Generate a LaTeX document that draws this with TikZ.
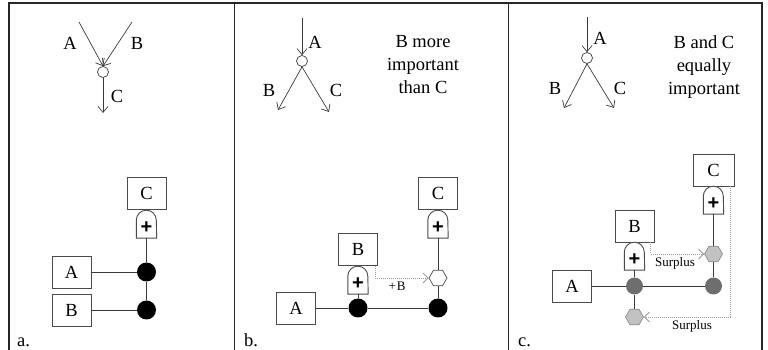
\documentclass[tikz,border=0pt]{standalone}
\usepackage{fontspec}
\setmainfont{Liberation Serif}
\newfontfamily\tnr{Liberation Serif}
\newfontfamily\arl{Liberation Sans}
\usetikzlibrary{shapes.geometric,arrows.meta}
\definecolor{boxc}{HTML}{4A4A4A}
\definecolor{wirec}{HTML}{3A3A3A}
\definecolor{dgray}{HTML}{6E6E6E}
\definecolor{lgray}{HTML}{C2C2C2}
\definecolor{hexc}{HTML}{8A8A8A}
\definecolor{dotc}{HTML}{9A9A9A}
\begin{document}
\begin{tikzpicture}[x=1pt,y=1pt,
  every node/.style={font=\tnr\fontsize{18.5}{23}\selectfont},
  box/.style={draw=boxc,line width=0.9pt,minimum width=39pt,minimum height=32pt,inner sep=0pt,fill=white},
  gatebox/.style={minimum width=20pt,minimum height=28pt,inner sep=0pt},
  gateline/.style={draw=boxc,line width=0.9pt,fill=white},
  plus/.style={font=\arl\bfseries\fontsize{20}{20}\selectfont,inner sep=0pt},
  wire/.style={draw=wirec,line width=0.9pt},
  bdot/.style={circle,fill=black,minimum size=19pt,inner sep=0pt},
  gdot/.style={circle,fill=dgray,minimum size=17pt,inner sep=0pt},
  hexw/.style={regular polygon,regular polygon sides=6,draw=boxc,fill=white,minimum size=18pt,inner sep=0pt,line width=0.7pt},
  hexg/.style={hexw,fill=lgray,draw=hexc},
  surplus/.style={draw=dotc,dash pattern=on 1pt off 1pt,line width=0.8pt,-{Straight Barb[length=5pt,width=10pt]}},
  flow/.style={draw=wirec,line width=0.7pt,-{Straight Barb[length=6pt,width=10pt]}},
  smallo/.style={circle,draw=wirec,fill=white,minimum size=11pt,inner sep=0pt,line width=0.7pt},
  lbl/.style={inner sep=0pt},
  small/.style={font=\tnr\fontsize{13}{15}\selectfont,inner sep=0pt}
]
\useasboundingbox (0,0) rectangle (768,350);
% frame
\draw[line width=1.2pt,draw=black!85] (9,0) -- (9,347) -- (762,347) -- (762,0);
\draw[line width=1pt,draw=black!85] (234.5,0) -- (234.5,347);
\draw[line width=1pt,draw=black!85] (508.5,0) -- (508.5,347);

% ---------------- panel a ----------------
\node[smallo] (ao) at (103,278) {};
\coordinate (aAs) at (79,328);
\coordinate (aBs) at (132,328);
\coordinate (aCe) at (103,237);
\draw[flow] (aAs) -- (ao.north);
\draw[flow] (aBs) -- (ao.north);
\draw[flow] (ao.south) -- (aCe);
\node[lbl] (aAl) at (70,307) {A};
\node[lbl] (aBl) at (137,307) {B};
\node[lbl] (aCl) at (117,254) {C};

\node[box] (aC) at (146.5,156.5) {C};
\node[gatebox] (aG) at (146.5,126) {};
\draw[gateline] (aG.south west) -- ++(0,18) arc[start angle=180,end angle=0,radius=10] -- (aG.south east) -- cycle;
\node[plus] (aGp) at ([yshift=11pt]aG.south) {+};
\node[bdot] (a1) at (146.5,78) {};
\node[bdot] (a2) at (146.5,40) {};
\node[box] (aA) at (71.5,78) {A};
\node[box] (aB) at (71.5,40) {B};
\draw[wire] (aG.south) -- (a1);
\draw[wire] (a1) -- (a2);
\draw[wire] (aA) -- (a1);
\draw[wire] (aB) -- (a2);
\node[lbl,anchor=base west] (alab) at (17,3) {a.};

% ---------------- panel b ----------------
\node[smallo] (bo) at (302,289) {};
\coordinate (bAs) at (302,332);
\coordinate (bBe) at (278,240);
\coordinate (bCe) at (329,238);
\draw[flow] (bAs) -- (bo.north);
\draw[flow] (bo.south) -- (bBe);
\draw[flow] (bo.south) -- (bCe);
\node[lbl] (bAl) at (315,308) {A};
\node[lbl] (bBl) at (269,260) {B};
\node[lbl] (bCl) at (336,260) {C};
\node[align=center,inner sep=0pt] (bT) at (423,285) {B more\\important\\than C};

\node[box] (bC) at (438,156.5) {C};
\node[gatebox] (bG) at (438,126) {};
\draw[gateline] (bG.south west) -- ++(0,18) arc[start angle=180,end angle=0,radius=10] -- (bG.south east) -- cycle;
\node[plus] (bGp) at ([yshift=11pt]bG.south) {+};
\node[hexw] (bh) at (438,72) {};
\node[bdot] (b2) at (438,42) {};
\node[bdot] (b1) at (358,42) {};
\node[box] (bA) at (296,42) {A};
\node[box] (bB) at (358,100.5) {B};
\node[gatebox] (bG2) at (358,70) {};
\draw[gateline] (bG2.south west) -- ++(0,18) arc[start angle=180,end angle=0,radius=10] -- (bG2.south east) -- cycle;
\node[plus] (bG2p) at ([yshift=11pt]bG2.south) {+};
\draw[wire] (bG.south) -- (bh);
\draw[wire] (bh) -- (b2);
\draw[wire] (bA) -- (b1);
\draw[wire] (b1) -- (b2);
\draw[wire] (bG2.south) -- (b1);
\draw[surplus] ([xshift=17pt]bB.south) |- (bh.west);
\node[small] (bpl) at (397,64) {+\kern1pt B};
\node[lbl,anchor=base west] (blab) at (244,3) {b.};

% ---------------- panel c ----------------
\node[smallo] (co) at (587,292) {};
\coordinate (cAs) at (587,333);
\coordinate (cBe) at (564,242);
\coordinate (cCe) at (614,242);
\draw[flow] (cAs) -- (co.north);
\draw[flow] (co.south) -- (cBe);
\draw[flow] (co.south) -- (cCe);
\node[lbl] (cAl) at (600,312) {A};
\node[lbl] (cBl) at (555,262) {B};
\node[lbl] (cCl) at (620,262) {C};
\node[align=center,inner sep=0pt] (cT) at (704,283) {B and C\\equally\\important};

\node[box,minimum width=41pt] (cC) at (713.5,180) {C};
\node[gatebox] (cG) at (713.5,150) {};
\draw[gateline] (cG.south west) -- ++(0,18) arc[start angle=180,end angle=0,radius=10] -- (cG.south east) -- cycle;
\node[plus] (cGp) at ([yshift=11pt]cG.south) {+};
\node[hexg] (ch1) at (713.5,96) {};
\node[gdot] (c2) at (713.5,64) {};
\node[gdot] (c1) at (634.5,64) {};
\node[box] (cA) at (572,64) {A};
\node[box] (cB) at (634.5,124) {B};
\node[gatebox] (cG2) at (634.5,94) {};
\draw[gateline] (cG2.south west) -- ++(0,18) arc[start angle=180,end angle=0,radius=10] -- (cG2.south east) -- cycle;
\node[plus] (cG2p) at ([yshift=11pt]cG2.south) {+};
\node[hexg] (ch2) at (634.5,33) {};
\draw[wire] (cG.south) -- (ch1);
\draw[wire] (ch1) -- (c2);
\draw[wire] (cA) -- (c1);
\draw[wire] (c1) -- (c2);
\draw[wire] (cG2.south) -- (c1);
\draw[wire] (c1) -- (ch2);
\draw[surplus] ([xshift=16pt]cB.south) |- (ch1.west);
\draw[surplus] ([xshift=16.5pt]cC.south) |- (ch2.east);
\node[small] (cs1) at (675,87) {Surplus};
\node[small] (cs2) at (692,24) {Surplus};
\node[lbl,anchor=base west] (clab) at (518,3) {c.};
\end{tikzpicture}
\end{document}
